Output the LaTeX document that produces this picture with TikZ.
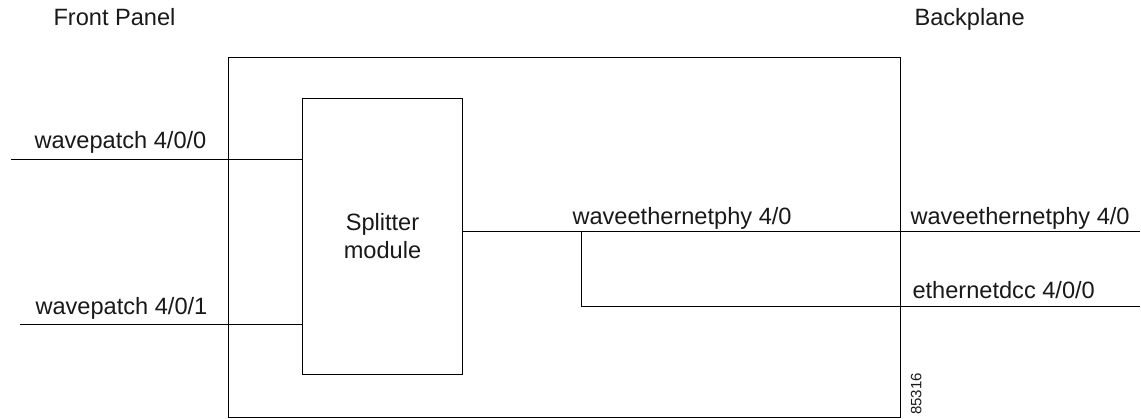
\documentclass[tikz,border=0pt]{standalone}
\usepackage{fontspec}
\setmainfont{Liberation Sans}
\begin{document}
\begin{tikzpicture}[x=1pt,y=-1pt,
  line width=1pt,
  lbl/.style={inner sep=0pt,anchor=base west,font=\fontsize{23.6}{28}\selectfont,text=black!90},
  boxnode/.style={draw,inner sep=0pt,anchor=north west},
  wire/.style={draw,line width=1pt}]
\useasboundingbox (0,0) rectangle (1141,419);

% chassis outline and splitter
\node[boxnode,minimum width=672pt,minimum height=360pt] (chassis) at (228,57) {};
\node[boxnode,minimum width=160pt,minimum height=276pt,align=center,
      font=\fontsize{23.6}{28}\selectfont,text=black!90] (split) at (302,98) {Splitter\\module};

% side headings
\node[lbl] (front) at (53,26) {Front Panel};
\node[lbl] (back) at (914,26) {Backplane};

% front panel ports
\coordinate (p0) at (11,160);
\coordinate (p1) at (20,325);
\node[lbl] (lp0) at (34,149) {wavepatch 4/0/0};
\node[lbl] (lp1) at (35,315) {wavepatch 4/0/1};
\draw[wire] (p0) -- (p0 -| split.west);
\draw[wire] (p1) -- (p1 -| split.west);

% backplane side
\coordinate (tap) at (581,232);
\coordinate (phyend) at (1140,232);
\coordinate (dccend) at (1140,307);
\node[lbl] (lphy) at (572,225) {waveethernetphy 4/0};
\node[lbl] (lphyb) at (910,225) {waveethernetphy 4/0};
\node[lbl] (ldcc) at (912,299) {ethernetdcc 4/0/0};
\draw[wire] (split.east |- phyend) -- (phyend);
\draw[wire] (tap) |- (dccend);

% figure number
\node[inner sep=0pt,rotate=90,anchor=south,font=\fontsize{15}{17}\selectfont,text=black!90] (fig) at (922,394) {85316};
\end{tikzpicture}
\end{document}
